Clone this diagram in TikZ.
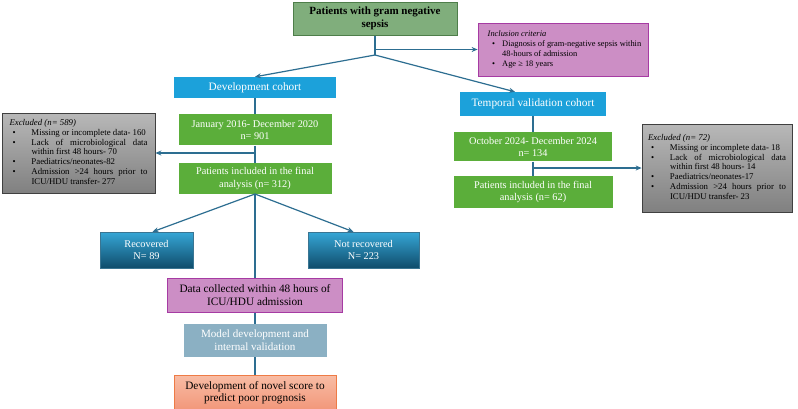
\documentclass[tikz,border=0pt]{standalone}
\usepackage{fontspec}
\setmainfont{Liberation Serif}
\usetikzlibrary{positioning,arrows.meta,calc}
\definecolor{flowline}{HTML}{2D6E91}
\definecolor{titlegreen}{HTML}{80AE7C}
\definecolor{titlegreenline}{HTML}{4E7E4A}
\definecolor{cohortblue}{HTML}{1CA1DA}
\definecolor{countgreen}{HTML}{5BAE3A}
\definecolor{critpurple}{HTML}{CC8EC5}
\definecolor{critpurpleline}{HTML}{A63BA3}
\definecolor{outtop}{HTML}{36A6D6}
\definecolor{outbottom}{HTML}{0F4C6B}
\definecolor{outline}{HTML}{3A7592}
\definecolor{exgreytop}{HTML}{B8B8B8}
\definecolor{exgreybottom}{HTML}{808080}
\definecolor{modelblue}{HTML}{8BB0C3}
\definecolor{scoretop}{HTML}{F8BCA4}
\definecolor{scorebottom}{HTML}{F2977A}
\definecolor{scoreline}{HTML}{EE7B46}
% a line spread over the full width of the list column
\newcommand{\spread}[1]{\makebox[116pt][s]{#1}}

\begin{document}
\begin{tikzpicture}[
  x=1pt, y=-1pt,
  stagebox/.style={align=center, inner sep=1pt, text=white},
  cohort/.style={stagebox, fill=cohortblue, font=\fontsize{11.3}{13}\selectfont},
  count/.style={stagebox, fill=countgreen, font=\fontsize{10.3}{12.5}\selectfont},
  outcome/.style={stagebox, top color=outtop, bottom color=outbottom, draw=outline,
                  font=\fontsize{10.3}{12.5}\selectfont},
  databox/.style={stagebox, text=black, fill=critpurple, draw=critpurpleline, line width=0.8pt,
                  font=\fontsize{11.3}{12.7}\selectfont},
  modelbox/.style={stagebox, fill=modelblue, font=\fontsize{11.1}{12.7}\selectfont},
  scorebox/.style={stagebox, text=black, top color=scoretop, bottom color=scorebottom,
                   draw=scoreline, line width=0.8pt, font=\fontsize{11.3}{12.7}\selectfont},
  exbox/.style={draw=black!75, line width=0.8pt, top color=exgreytop, bottom color=exgreybottom,
                inner sep=1pt, font=\fontsize{8.8}{9.8}\selectfont},
  critbox/.style={draw=critpurpleline, line width=0.8pt, fill=critpurple,
                  inner sep=1pt, font=\fontsize{8.4}{9.8}\selectfont},
  arr/.style={-{Stealth[length=6pt,width=5pt]}, line width=1.2pt, flowline},
  ln/.style={line width=1.2pt, flowline}
]
\fill[white] (0,0) rectangle (798,408);
\useasboundingbox (0,0) rectangle (798,408);
% ================= top: source population =================
\node[stagebox, text=black, fill=titlegreen, draw=titlegreenline, line width=1pt,
      minimum width=164pt, minimum height=33pt, font=\fontsize{11}{13}\selectfont]
  (title) at (375,18.5) {\textbf{Patients with gram negative}\\\textbf{sepsis}};
\node[critbox, minimum width=170pt, minimum height=53pt] (incl) at (563,49.5)
  {\begin{tabular}{@{\hspace{7.5pt}}p{10pt}@{}l@{}}
   \multicolumn{2}{@{\hspace{3pt}}l@{}}{\textit{Inclusion criteria}}\\
   \textbullet & Diagnosis of gram-negative sepsis within\\
               & 48-hours of admission\\
   \textbullet & Age ≥ 18 years
   \end{tabular}};
\coordinate (split) at (375,55);
% ================= development cohort =================
\node[cohort, minimum width=162pt, minimum height=21pt] (dev) at (255,87.5) {Development cohort};
\node[count, minimum width=153pt, minimum height=31pt, below=16pt of dev] (jan)
  {January 2016- December 2020\\n= 901};
\node[count, minimum width=153pt, minimum height=31pt, below=17pt of jan] (dfinal)
  {Patients included in the final\\analysis (n= 312)};
\node[exbox, minimum width=153pt, minimum height=80pt] (excldev) at (78.5,153)
  {\begin{tabular}{@{\hspace{3pt}}p{19pt}@{}l@{}}
   \multicolumn{2}{@{}l@{}}{\textit{Excluded (n= 589)}}\\
   \textbullet & Missing or incomplete data- 160\\
   \textbullet & \spread{Lack of microbiological data}\\
               & within first 48 hours- 70\\
   \textbullet & Paediatrics/neonates-82\\
   \textbullet & \spread{Admission >24 hours prior to}\\
               & ICU/HDU transfer- 277
   \end{tabular}};
\node[outcome, minimum width=93pt, minimum height=36pt] (rec) at (146.5,250) {Recovered\\N= 89};
\node[outcome, minimum width=111pt, minimum height=36pt] (notrec) at (363.5,250) {Not recovered\\N= 223};
\node[databox, minimum width=175pt, minimum height=34pt, below=84pt of dfinal] (data)
  {Data collected within 48 hours of\\ICU/HDU admission};
\node[modelbox, minimum width=143pt, minimum height=33pt, below=11pt of data] (model)
  {Model development and\\internal validation};
\node[scorebox, minimum width=162pt, minimum height=34pt, below=18pt of model] (score)
  {Development of novel score to\\predict poor prognosis};
% ================= temporal validation cohort =================
\node[cohort, minimum width=146pt, minimum height=24pt] (temp) at (533,104) {Temporal validation cohort};
\node[count, minimum width=158pt, minimum height=29pt, below=16pt of temp] (oct)
  {October 2024- December 2024\\n= 134};
\node[count, minimum width=159pt, minimum height=32pt, below=14pt of oct] (tfinal)
  {Patients included in the final\\analysis (n= 62)};
\node[exbox, minimum width=150pt, minimum height=88pt] (excltemp) at (717,168)
  {\begin{tabular}{@{\hspace{3pt}}p{19pt}@{}l@{}}
   \multicolumn{2}{@{}l@{}}{\textit{Excluded (n= 72)}}\\
   \textbullet & Missing or incomplete data- 18\\
   \textbullet & \spread{Lack of microbiological data}\\
               & within first 48 hours- 14\\
   \textbullet & Paediatrics/neonates-17\\
   \textbullet & \spread{Admission >24 hours prior to}\\
               & ICU/HDU transfer- 23
   \end{tabular}};
% ================= connectors =================
\draw[ln] (title.south) -- (split);
\draw[arr] (title.south |- incl.west) -- (incl.west);
\draw[arr] (split) -- (dev.north);
\draw[arr] (split) -- ([xshift=-18pt]temp.north);
\draw[ln] (dev.south) -- (jan.north);
\draw[ln] (jan.south) -- (dfinal.north);
\draw[arr] (jan.south |- excldev.east) -- (excldev.east);
\draw[arr] (dfinal.south) -- ([xshift=6pt]rec.north);
\draw[arr] (dfinal.south) -- ([xshift=-10pt]notrec.north);
\draw[ln] (dfinal.south) -- (data.north);
\draw[ln] (data.south) -- (model.north);
\draw[ln] (model.south) -- (score.north);
\draw[ln] (temp.south) -- (oct.north);
\draw[ln] (oct.south) -- (tfinal.north);
\draw[arr] (oct.south |- excltemp.west) -- (excltemp.west);
\end{tikzpicture}
\end{document}
